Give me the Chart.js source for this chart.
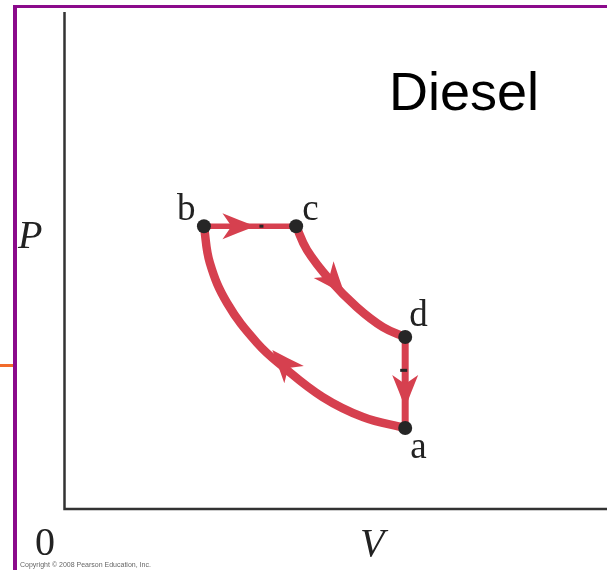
<!DOCTYPE html>
<html lang="en">
<head>
  <meta charset="UTF-8">
  <title>Diesel cycle</title>
  <style>
    * { margin: 0; padding: 0; box-sizing: border-box; }
    body { background: #fff; width: 607px; height: 570px; overflow: hidden; }
    #wrap { position: relative; width: 607px; height: 570px; }
    #frameTop { position: absolute; left: 13px; top: 5px; width: 594px; height: 3px; background: #8b0a8b; }
    #frameLeft { position: absolute; left: 13px; top: 5px; width: 3.5px; height: 565px; background: #8b0a8b; }
    #orange { position: absolute; left: 0; top: 364px; width: 13px; height: 3px; background: #f26b2a; }
  </style>
  <script src="https://cdn.jsdelivr.net/npm/chart.js"></script>
</head>
<body>
  <div id="wrap">
    <canvas id="chart" width="607" height="570"></canvas>
    <div id="frameTop"></div>
    <div id="frameLeft"></div>
    <div id="orange"></div>
  </div>

  <script>
    // states of the cycle (V, P) in arbitrary units
    const stateNames = ["b", "c", "d", "a"];
    const stateV = [2.57, 4.27, 6.28, 6.28];
    const stateP = [5.69, 5.69, 3.46, 1.63];

    // paths
    const pathBC = [[2.57, 5.69], [4.27, 5.69]];
    const pathCD = [[4.27, 5.69], [4.47, 5.21], [4.89, 4.61], [5.39, 4.06], [5.87, 3.66], [6.28, 3.46]];
    const pathDA = [[6.28, 3.46], [6.28, 1.63]];
    const pathAB = [[6.28, 1.63], [5.50, 1.85], [4.76, 2.25], [4.03, 2.86], [3.55, 3.34], [3.00, 4.14], [2.68, 4.95], [2.57, 5.69]];

    // arrow heads: tip and a point behind it
    const arrowTips = [[3.52, 5.69], [5.17, 4.31], [6.28, 2.03], [3.83, 3.20]];
    const arrowTails = [[2.87, 5.69], [4.75, 4.85], [6.28, 2.64], [4.25, 2.68]];

    const red = "#d6404f";
    const dark = "#262626";

    function toXY(arr) {
      return arr.map(p => ({ x: p[0], y: p[1] }));
    }

    function seg(data, width) {
      return {
        data: toXY(data),
        showLine: true,
        borderColor: red,
        borderWidth: width,
        borderCapStyle: "round",
        tension: 0.4,
        pointRadius: 0,
        fill: false
      };
    }

    const decor = {
      id: "decor",
      beforeDatasetsDraw(chart) {
        const ctx = chart.ctx;
        const xs = chart.scales.x, ys = chart.scales.y;
        const x0 = xs.getPixelForValue(0), y0 = ys.getPixelForValue(0);
        const yTop = ys.getPixelForValue(10), xEnd = xs.getPixelForValue(10);

        // axes
        ctx.save();
        ctx.strokeStyle = "#333";
        ctx.lineWidth = 2.5;
        ctx.beginPath();
        ctx.moveTo(x0, yTop);
        ctx.lineTo(x0, y0);
        ctx.lineTo(xEnd, y0);
        ctx.stroke();
        ctx.restore();
      },
      afterDatasetsDraw(chart) {
        const ctx = chart.ctx;
        const xs = chart.scales.x, ys = chart.scales.y;

        // arrow heads
        ctx.save();
        ctx.fillStyle = red;
        for (let i = 0; i < arrowTips.length; i++) {
          const tx = xs.getPixelForValue(arrowTips[i][0]);
          const ty = ys.getPixelForValue(arrowTips[i][1]);
          const fx = xs.getPixelForValue(arrowTails[i][0]);
          const fy = ys.getPixelForValue(arrowTails[i][1]);
          const ang = Math.atan2(ty - fy, tx - fx);
          ctx.save();
          ctx.translate(tx, ty);
          ctx.rotate(ang);
          ctx.beginPath();
          ctx.moveTo(0, 0);
          ctx.quadraticCurveTo(-16, -6, -33, -13);
          ctx.lineTo(-24, 0);
          ctx.lineTo(-33, 13);
          ctx.quadraticCurveTo(-16, 6, 0, 0);
          ctx.closePath();
          ctx.fill();
          ctx.restore();
        }
        ctx.restore();

        // small dark ticks on the straight legs
        ctx.save();
        ctx.fillStyle = dark;
        const bcMid = xs.getPixelForValue(3.63), bcY = ys.getPixelForValue(5.69);
        ctx.fillRect(bcMid - 2, bcY - 1.5, 4, 3);
        const daX = xs.getPixelForValue(6.28), daMid = ys.getPixelForValue(2.79);
        ctx.fillRect(daX - 5, daMid - 1.5, 7, 3);
        ctx.restore();

        // state points on top
        ctx.save();
        ctx.fillStyle = dark;
        stateNames.forEach((n, i) => {
          ctx.beginPath();
          ctx.arc(xs.getPixelForValue(stateV[i]), ys.getPixelForValue(stateP[i]), 7, 0, Math.PI * 2);
          ctx.fill();
        });
        ctx.restore();

        // texts
        ctx.save();
        ctx.fillStyle = "#222";
        ctx.textBaseline = "alphabetic";
        ctx.font = "37px 'Liberation Serif', serif";
        const offs = { b: [-27, -6], c: [6, -6], d: [4, -11], a: [5, 30] };
        stateNames.forEach((n, i) => {
          const px = xs.getPixelForValue(stateV[i]);
          const py = ys.getPixelForValue(stateP[i]);
          ctx.fillText(n, px + offs[n][0], py + offs[n][1]);
        });

        ctx.font = "italic 40px 'Liberation Serif', serif";
        ctx.fillText("P", 18, 248);
        ctx.fillText("V", 360, 556);
        ctx.font = "40px 'Liberation Serif', serif";
        ctx.fillText("0", 35, 555);

        ctx.fillStyle = "#000";
        ctx.font = "54px 'Liberation Sans', Arial, sans-serif";
        ctx.fillText("Diesel", 389, 110);

        ctx.fillStyle = "#666";
        ctx.font = "7px 'Liberation Sans', Arial, sans-serif";
        ctx.fillText("Copyright \u00a9 2008 Pearson Education, Inc.", 20, 567);
        ctx.restore();
      }
    };

    new Chart(document.getElementById("chart"), {
      type: "scatter",
      data: {
        datasets: [
          seg(pathBC, 5.5),
          seg(pathCD, 8.5),
          seg(pathDA, 7),
          seg(pathAB, 8.5)
        ]
      },
      options: {
        responsive: false,
        animation: false,
        layout: { autoPadding: false, padding: { left: 64.5, top: 12, right: 0, bottom: 61 } },
        plugins: { legend: { display: false }, tooltip: { enabled: false } },
        scales: {
          x: { type: "linear", display: false, min: 0, max: 10 },
          y: { type: "linear", display: false, min: 0, max: 10 }
        }
      },
      plugins: [decor]
    });
  </script>
</body>
</html>
